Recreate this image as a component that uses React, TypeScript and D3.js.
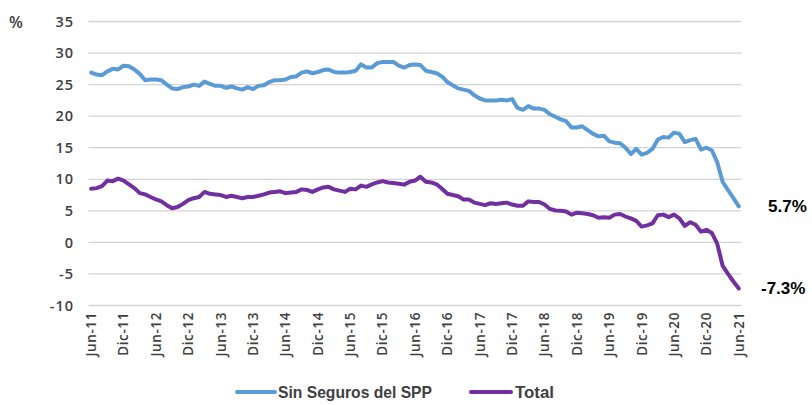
import React from 'react';
import * as d3 from 'd3';

// tick labels every 6 months, Jun-11 .. Jun-21
const tickLabels = [
  'Jun-11', 'Dic-11', 'Jun-12', 'Dic-12', 'Jun-13', 'Dic-13', 'Jun-14', 'Dic-14',
  'Jun-15', 'Dic-15', 'Jun-16', 'Dic-16', 'Jun-17', 'Dic-17', 'Jun-18', 'Dic-18',
  'Jun-19', 'Dic-19', 'Jun-20', 'Dic-20', 'Jun-21',
];

// monthly values (%), Jun-11 .. Jun-21
const sinSeguros = [
  26.9, 26.6, 26.5, 27.1, 27.5, 27.4, 28.0, 27.9, 27.4, 26.7,
  25.7, 25.8, 25.8, 25.7, 25.0, 24.4, 24.3, 24.6, 24.7, 25.0,
  24.8, 25.5, 25.1, 24.8, 24.8, 24.5, 24.7, 24.4, 24.2, 24.6,
  24.3, 24.8, 24.9, 25.4, 25.7, 25.7, 25.8, 26.2, 26.3, 26.9,
  27.1, 26.8, 27.0, 27.3, 27.4, 27.0, 26.9, 26.9, 27.0, 27.2,
  28.2, 27.7, 27.7, 28.4, 28.6, 28.6, 28.6, 28.0, 27.7, 28.1,
  28.2, 28.1, 27.2, 27.0, 26.8, 26.3, 25.4, 24.9, 24.4, 24.2,
  24.0, 23.3, 22.8, 22.5, 22.5, 22.5, 22.6, 22.5, 22.7, 21.3,
  21.0, 21.6, 21.2, 21.2, 21.0, 20.3, 19.9, 19.5, 19.2, 18.2,
  18.2, 18.4, 17.8, 17.2, 16.8, 16.9, 16.0, 15.8, 15.7, 15.0,
  14.0, 14.8, 13.9, 14.2, 14.8, 16.3, 16.7, 16.6, 17.4, 17.2,
  15.9, 16.2, 16.4, 14.7, 15.0, 14.6, 12.7, 9.6, 8.3, 7.0,
  5.7,
];

const total = [
  8.5, 8.6, 8.9, 9.8, 9.7, 10.1, 9.8, 9.2, 8.6, 7.8,
  7.6, 7.2, 6.8, 6.5, 5.9, 5.4, 5.6, 6.1, 6.7, 7.0,
  7.2, 8.0, 7.7, 7.6, 7.5, 7.2, 7.4, 7.2, 7.0, 7.2,
  7.2, 7.4, 7.6, 7.9, 8.0, 8.1, 7.8, 7.9, 8.0, 8.4,
  8.3, 8.0, 8.4, 8.7, 8.8, 8.4, 8.2, 8.0, 8.5, 8.4,
  9.0, 8.8, 9.2, 9.5, 9.7, 9.5, 9.4, 9.3, 9.15, 9.6,
  9.8, 10.4, 9.6, 9.5, 9.2, 8.5, 7.7, 7.5, 7.3, 6.8,
  6.8, 6.3, 6.1, 5.9, 6.2, 6.1, 6.2, 6.3, 6.0, 5.8,
  5.8, 6.5, 6.4, 6.4, 6.0, 5.3, 5.05, 5.0, 4.9, 4.4,
  4.7, 4.6, 4.5, 4.3, 3.9, 4.0, 3.9, 4.4, 4.5, 4.1,
  3.8, 3.4, 2.5, 2.7, 3.0, 4.3, 4.4, 4.0, 4.4, 3.8,
  2.6, 3.2, 2.8, 1.7, 2.0, 1.5, -0.2, -3.7, -5.0, -6.2,
  -7.3,
];

const yTicks = [-10, -5, 0, 5, 10, 15, 20, 25, 30, 35];
const endLabels = ['5.7%', '-7.3%'];

const BLUE = '#5b9bd5';
const PURPLE = '#7030a0';
const TEXT = '#404040';
const tickFont = '"Open Sans", sans-serif';
const legendFont = '"Liberation Sans", sans-serif';

export default function App() {
  const n = sinSeguros.length;
  const x = d3.scaleLinear().domain([-0.5, n - 0.5]).range([88.5, 741.5]);
  const y = d3.scaleLinear().domain([-10, 35]).range([305.5, 21.5]);

  const line = d3.line<number>()
    .x((_, i) => x(i))
    .y(d => y(d));

  return (
    <div style={{ position: 'absolute', left: 0, top: 0 }}>
      <svg width={812} height={405} style={{ display: 'block', background: '#fff' }}>
        {/* gridlines */}
        {yTicks.map(t => (
          <line key={t} x1={x.range()[0]} x2={x.range()[1]} y1={y(t)} y2={y(t)}
            stroke="#d4d4d4" strokeWidth={1.3} />
        ))}
        {/* y tick labels */}
        {yTicks.map(t => (
          <text key={'l' + t} x={74} y={y(t)} dy="0.36em" textAnchor="end"
            fontFamily={tickFont} fontWeight={600} fontSize={14.5} letterSpacing={1}
            fill={TEXT}>{t}</text>
        ))}
        <text x={9} y={28} fontFamily={tickFont} fontWeight={600} fontSize={16} fill={TEXT}>%</text>

        {/* x tick labels */}
        {tickLabels.map((lab, k) => {
          const px = x(k * 6);
          return (
            <text key={lab} transform={`translate(${px},${312}) rotate(-90)`}
              textAnchor="end" dy="0.36em" fontFamily={tickFont} fontWeight={600}
              fontSize={13.5} letterSpacing={0.6} fill={TEXT}>{lab}</text>
          );
        })}

        {/* series */}
        <path d={line(sinSeguros) || ''} fill="none" stroke={BLUE} strokeWidth={4}
          strokeLinejoin="round" strokeLinecap="round" />
        <path d={line(total) || ''} fill="none" stroke={PURPLE} strokeWidth={4}
          strokeLinejoin="round" strokeLinecap="round" />

        {/* end labels */}
        <text x={768} y={y(sinSeguros[n - 1]) + 6} fontFamily='"Liberation Sans", Arial, sans-serif'
          fontWeight={700} fontSize={17} fill="#000">{endLabels[0]}</text>
        <text x={761} y={y(total[n - 1]) + 6} fontFamily='"Liberation Sans", Arial, sans-serif'
          fontWeight={700} fontSize={17} fill="#000">{endLabels[1]}</text>

        {/* legend */}
        <line x1={237} x2={275} y1={392} y2={392} stroke={BLUE} strokeWidth={4} strokeLinecap="round" />
        <text x={278} y={392} dy="0.36em" fontFamily={legendFont} fontWeight={700}
          fontSize={17} fill={TEXT} textLength={154} lengthAdjust="spacingAndGlyphs">Sin Seguros del SPP</text>
        <line x1={471} x2={511} y1={392} y2={392} stroke={PURPLE} strokeWidth={4} strokeLinecap="round" />
        <text x={515} y={392} dy="0.36em" fontFamily={legendFont} fontWeight={700}
          fontSize={17} fill={TEXT} textLength={39} lengthAdjust="spacingAndGlyphs">Total</text>
      </svg>
    </div>
  );
}
